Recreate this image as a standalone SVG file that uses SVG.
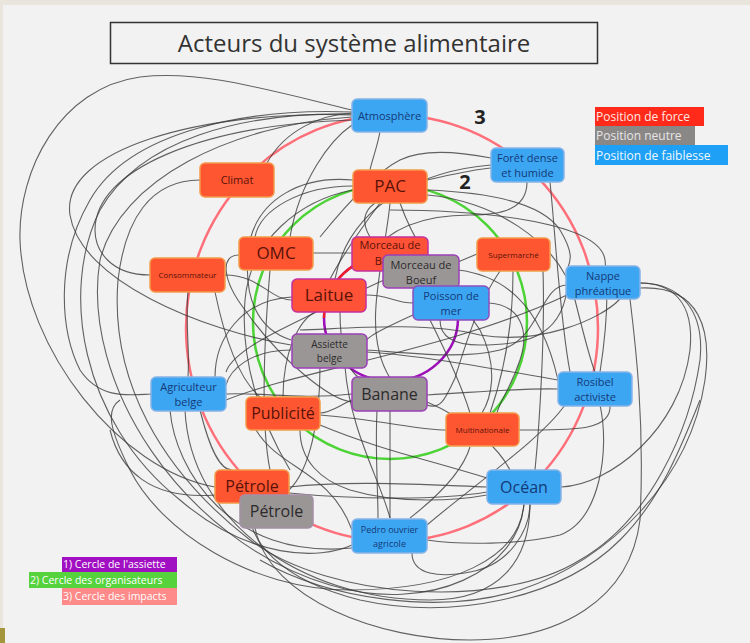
<svg xmlns="http://www.w3.org/2000/svg" width="750" height="643" viewBox="0 0 750 643">
<style>
.c{fill:none;stroke:#3c3c3c;stroke-width:1.1;stroke-opacity:0.8}
.o{fill:#ff5632;stroke:#f39a4a;stroke-width:1.5}
.op{fill:#ff5236;stroke:#c4309e;stroke-width:1.5}
.b{fill:#3da6f2;stroke:#86b4e8;stroke-width:1.5}
.bp{fill:#3da6f2;stroke:#8d4fc0;stroke-width:1.5}
.g{fill:#9b9696;stroke:#9c3fb8;stroke-width:1.5}
text{font-family:"Open Sans","DejaVu Sans",sans-serif;text-anchor:middle}
.to{fill:#5a1208}
.tb{fill:#123a78}
.tg{fill:#2b2b2b}
.lg{fill:#ffffff;text-anchor:start;font-size:10.5px}
.lt{text-anchor:start;font-size:12px}
</style>
<rect x="0" y="0" width="750" height="643" fill="#f2f2f2"/>
<rect x="0" y="0" width="750" height="5" fill="#e9e5dc"/>
<rect x="0" y="0" width="3" height="643" fill="#e9e5dc"/>
<rect x="0" y="628" width="5" height="15" fill="#a4963c"/>

<g id="title">
<rect x="110.5" y="22.5" width="487" height="41" fill="none" stroke="#333" stroke-width="1.5"/>
<text x="354" y="52" font-size="24" fill="#333">Acteurs du système alimentaire</text>
</g>

<g id="circles" fill="none">
<ellipse cx="392" cy="328" rx="206" ry="213" stroke="#ff6f7a" stroke-width="2.5"/>
<circle cx="390" cy="322" r="137" stroke="#4cd335" stroke-width="2.5"/>
<ellipse cx="391" cy="318" rx="67" ry="63" stroke="#9c0fb8" stroke-width="2.5"/>
<path d="M391,255 A67,63 0 0,0 324,318" stroke="#f01c2a" stroke-width="2.5"/>
</g>

<g id="connectors">
<path class="c" d="M352,110 C260,88 200,70 140,77 C60,88 18,170 20,240 C24,350 120,470 215,487"/>
<path class="c" d="M352,112 C250,108 130,130 90,200 C55,260 60,330 80,370 C100,400 130,395 151,394"/>
<path class="c" d="M352,114 C240,112 140,140 100,210 C60,290 80,420 180,500 C250,560 320,560 352,545"/>
<path class="c" d="M352,117 C230,125 120,180 100,260 C80,380 180,540 330,585 C430,615 520,570 524,503"/>
<path class="c" d="M200,180 C150,180 125,220 118,280 C110,380 160,470 250,540 C330,600 500,610 580,560 C650,520 690,430 700,360 C705,310 680,283 640,283"/>
<path class="c" d="M352,113 C320,115 285,130 267,163"/>
<path class="c" d="M380,131 C378,145 372,160 370,170"/>
<path class="c" d="M150,275 C110,275 95,250 95,230 C95,170 200,125 352,120"/>
<path class="c" d="M352,115 C200,110 60,150 70,215 C80,280 200,330 291,345"/>
<path class="c" d="M188,292 C185,320 190,350 188,377"/>
<path class="c" d="M226,394 C260,392 300,400 352,394"/>
<path class="c" d="M170,410 C175,470 230,560 352,548"/>
<path class="c" d="M185,410 C190,520 300,600 430,600 C500,600 530,560 530,503"/>
<path class="c" d="M200,410 C210,450 220,470 232,470"/>
<path class="c" d="M225,275 C260,275 270,300 292,300"/>
<path class="c" d="M215,292 C225,340 240,380 260,397"/>
<path class="c" d="M239,255 C220,255 222,280 245,310 C280,360 330,400 352,402"/>
<path class="c" d="M290,237 C300,180 330,140 352,125"/>
<path class="c" d="M270,270 C265,330 260,420 270,470"/>
<path class="c" d="M313,253 L353,253"/>
<path class="c" d="M353,186 C300,186 260,210 255,237"/>
<path class="c" d="M353,190 C300,200 250,240 245,300 C240,360 260,420 290,470"/>
<path class="c" d="M427,180 C450,175 470,170 491,168"/>
<path class="c" d="M427,190 C480,192 540,200 560,230 C575,255 570,262 567,270"/>
<path class="c" d="M427,195 C490,200 560,240 575,300 C585,340 590,360 595,372"/>
<path class="c" d="M390,203 C385,260 360,330 390,378"/>
<path class="c" d="M400,203 C420,260 460,300 480,330 C500,370 490,400 482,413"/>
<path class="c" d="M380,203 C360,230 340,260 330,279"/>
<path class="c" d="M491,158 C450,150 420,150 400,160 C380,170 350,200 320,237"/>
<path class="c" d="M527,182 C527,210 500,215 470,215 C420,215 380,230 360,270"/>
<path class="c" d="M550,182 C555,230 560,320 570,372"/>
<path class="c" d="M458,262 L477,254"/>
<path class="c" d="M513,271 C513,320 505,370 490,413"/>
<path class="c" d="M543,271 C545,330 540,420 535,470"/>
<path class="c" d="M390,210 C470,210 600,220 605,260 C610,300 605,340 600,372"/>
<path class="c" d="M366,295 C390,295 395,303 413,303"/>
<path class="c" d="M489,303 C520,305 530,330 520,360 C510,390 500,400 497,413"/>
<path class="c" d="M440,320 C440,340 460,345 480,345 C520,345 560,340 567,290"/>
<path class="c" d="M292,297 C240,300 215,340 215,377"/>
<path class="c" d="M340,312 C340,340 345,370 360,378"/>
<path class="c" d="M291,350 C250,350 230,370 226,385"/>
<path class="c" d="M366,352 C420,355 500,370 558,380"/>
<path class="c" d="M320,367 C320,420 310,470 289,490"/>
<path class="c" d="M345,367 C350,430 380,480 390,518"/>
<path class="c" d="M390,411 L390,518"/>
<path class="c" d="M377,411 C375,450 378,490 378,518"/>
<path class="c" d="M352,400 C340,405 330,413 320,413"/>
<path class="c" d="M427,402 C470,420 500,450 510,470"/>
<path class="c" d="M427,395 C480,392 520,388 558,389"/>
<path class="c" d="M320,415 C380,420 420,430 446,430"/>
<path class="c" d="M300,430 C300,460 320,480 350,490 C400,505 460,500 487,495"/>
<path class="c" d="M283,397 C283,350 300,320 315,312"/>
<path class="c" d="M470,447 C460,480 420,510 410,518"/>
<path class="c" d="M519,430 C570,430 612,432 610,405"/>
<path class="c" d="M470,413 C460,380 440,340 430,320"/>
<path class="c" d="M565,405 C540,440 480,480 427,525"/>
<path class="c" d="M289,487 C350,480 430,485 487,487"/>
<path class="c" d="M289,493 C360,500 440,500 487,492"/>
<path class="c" d="M561,487 C610,485 680,430 690,350 C695,300 670,283 640,283"/>
<path class="c" d="M640,288 C700,285 712,330 705,380 C690,480 610,560 520,590 C440,615 330,600 260,560"/>
<path class="c" d="M255,528 C270,600 380,640 470,640 C560,640 630,600 640,520 C645,420 635,340 630,299"/>
<path class="c" d="M567,285 C540,285 540,340 500,350 C460,360 400,352 366,350"/>
<path class="c" d="M524,503 C520,560 450,590 350,590 C250,590 160,530 130,470 C110,430 105,410 120,400"/>
<path class="c" d="M412,553 C412,575 440,578 470,572 C510,565 530,530 530,503"/>
<path class="c" d="M600,405 C610,450 600,520 560,535 C520,545 460,545 427,540"/>
<path class="c" d="M226,400 C300,370 450,350 567,295"/>
<path class="c" d="M353,180 C300,175 260,200 250,240 C240,300 260,330 291,340"/>
<path class="c" d="M370,237 C360,220 365,210 375,203"/>
<path class="c" d="M491,165 C430,170 350,200 335,279"/>
<path class="c" d="M384,280 C340,300 300,320 280,330 C250,345 230,360 226,372"/>
<path class="c" d="M458,270 C500,275 540,300 558,380"/>
<path class="c" d="M413,315 C380,330 360,340 366,345"/>
<path class="c" d="M250,503 C245,540 280,580 360,600 C450,620 560,600 620,540 C660,500 680,450 700,400"/>
<path class="c" d="M215,495 C150,500 120,470 110,430"/>
<path class="c" d="M500,271 C480,300 470,330 455,378 C445,400 440,410 427,405"/>
<path class="c" d="M300,330 C330,330 420,320 480,335 C540,345 600,320 620,299"/>
<path class="c" d="M256,430 C280,470 330,470 352,530"/>
<path class="c" d="M320,425 C380,450 430,460 487,478"/>
</g>

<g id="atmosphere"><rect class="b" x="352" y="99" width="75" height="33" rx="5"/><text class="tb" x="389.5" y="120" font-size="11">Atmosphère</text></g>
<g id="climat"><rect class="o" x="200" y="163" width="74" height="34" rx="5"/><text class="to" x="237" y="184" font-size="11">Climat</text></g>
<g id="pac"><rect class="o" x="353" y="170" width="74" height="33" rx="5"/><text class="to" x="390" y="192" font-size="17">PAC</text></g>
<g id="foret"><rect class="b" x="491" y="148" width="73" height="34" rx="5"/><text class="tb" x="527.5" y="162" font-size="11">Forêt dense</text><text class="tb" x="527.5" y="177" font-size="11">et humide</text></g>
<g id="omc"><rect class="o" x="239" y="237" width="74" height="33" rx="5"/><text class="to" x="276" y="259" font-size="17">OMC</text></g>
<g id="consommateur"><rect class="o" x="150" y="258" width="75" height="34" rx="5"/><text class="to" x="187.5" y="278" font-size="8">Consommateur</text></g>
<g id="supermarche"><rect class="o" x="477" y="238" width="73" height="33" rx="5"/><text class="to" x="513.5" y="258" font-size="8">Supermarché</text></g>
<g id="morceau-rouge"><rect class="op" x="352" y="237" width="76" height="34" rx="5"/><text class="to" x="390" y="249" font-size="11">Morceau de</text><text class="to" x="390" y="265" font-size="11">Boeuf</text></g>
<g id="morceau-gris"><rect class="g" x="383" y="255" width="76" height="33" rx="5"/><text class="tg" x="421" y="269" font-size="11">Morceau de</text><text class="tg" x="421" y="284" font-size="11">Boeuf</text></g>
<g id="laitue"><rect class="op" x="292" y="279" width="74" height="33" rx="5"/><text class="to" x="329" y="301" font-size="17">Laitue</text></g>
<g id="poisson"><rect class="bp" x="413" y="286" width="76" height="34" rx="5"/><text class="tb" x="451" y="300" font-size="11">Poisson de</text><text class="tb" x="451" y="315" font-size="11">mer</text></g>
<g id="nappe"><rect class="b" x="566" y="266" width="74" height="33" rx="5"/><text class="tb" x="603" y="280" font-size="11">Nappe</text><text class="tb" x="603" y="295" font-size="11">phréatique</text></g>
<g id="assiette"><rect class="g" x="292" y="334" width="75" height="34" rx="5"/><text class="tg" x="329.5" y="348" font-size="10">Assiette</text><text class="tg" x="329.5" y="362" font-size="10">belge</text></g>
<g id="banane"><rect class="g" x="352" y="377" width="75" height="34" rx="5"/><text class="tg" x="389.5" y="400" font-size="16">Banane</text></g>
<g id="agriculteur"><rect class="b" x="151" y="377" width="75" height="34" rx="5"/><text class="tb" x="188.5" y="391" font-size="11">Agriculteur</text><text class="tb" x="188.5" y="406" font-size="11">belge</text></g>
<g id="publicite"><rect class="o" x="246" y="397" width="74" height="33" rx="5"/><text class="to" x="283" y="419" font-size="16">Publicité</text></g>
<g id="rosibel"><rect class="b" x="558" y="372" width="74" height="34" rx="5"/><text class="tb" x="595" y="386" font-size="11">Rosibel</text><text class="tb" x="595" y="401" font-size="11">activiste</text></g>
<g id="multinationale"><rect class="o" x="446" y="413" width="73" height="33" rx="5"/><text class="to" x="482.5" y="433" font-size="8">Multinationale</text></g>
<g id="petrole-rouge"><rect class="o" x="215" y="470" width="74" height="33" rx="5"/><text class="to" x="252" y="492" font-size="16">Pétrole</text></g>
<g id="petrole-gris"><rect class="g" x="240" y="495" width="73" height="33" rx="5" style="stroke:#a58fa8"/><text class="tg" x="276.5" y="517" font-size="16">Pétrole</text></g>
<g id="ocean"><rect class="b" x="487" y="470" width="74" height="34" rx="5"/><text class="tb" x="524" y="493" font-size="16">Océan</text></g>
<g id="pedro"><rect class="b" x="352" y="519" width="75" height="34" rx="5"/><text class="tb" x="389.5" y="533" font-size="9">Pedro ouvrier</text><text class="tb" x="389.5" y="547" font-size="9">agricole</text></g>

<g id="label-3"><text x="480" y="124" font-size="20" font-weight="bold" fill="#222">3</text></g>
<g id="label-2"><text x="465" y="189" font-size="20" font-weight="bold" fill="#222">2</text></g>

<g id="legend-position">
<rect x="595" y="107" width="109" height="19" fill="#ff2a1a"/>
<text class="lt" x="596" y="121" fill="#ffe8e0">Position de force</text>
<rect x="595" y="126" width="100" height="19" fill="#8a8787"/>
<text class="lt" x="596" y="140" fill="#e6e6e6">Position neutre</text>
<rect x="595" y="145" width="133" height="20" fill="#1da0f5"/>
<text class="lt" x="596" y="160" fill="#f0f8ff">Position de faiblesse</text>
</g>

<g id="legend-cercles">
<rect x="62" y="557" width="115" height="15" fill="#a10fc2"/>
<text class="lg" x="63" y="568">1) Cercle de l'assiette</text>
<rect x="29" y="572" width="148" height="16" fill="#55d23c"/>
<text class="lg" x="30" y="584">2) Cercle des organisateurs</text>
<rect x="62" y="588" width="115" height="17" fill="#ff8a8a"/>
<text class="lg" x="63" y="600">3) Cercle des impacts</text>
</g>
</svg>
